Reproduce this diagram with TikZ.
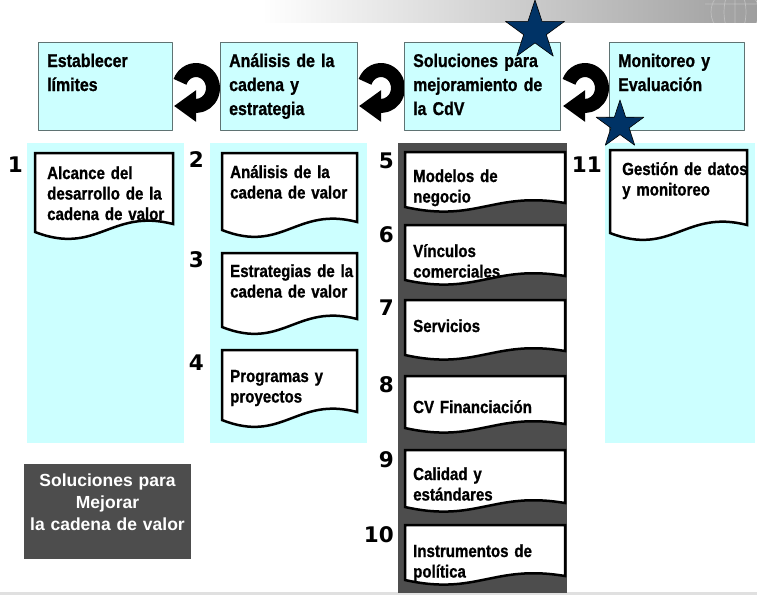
\documentclass[tikz,border=0pt]{standalone}
\usepackage{fontspec}
\setmainfont{Liberation Sans}
\newfontfamily\narrowsans{Liberation Sans}[FakeStretch=0.86, FakeBold=1]
\newfontfamily\digitsans{DejaVu Sans}
\usetikzlibrary{arrows.meta,shapes.geometric}
\definecolor{paleaqua}{HTML}{CCFFFF}
\definecolor{slategray}{HTML}{4D4D4D}
\definecolor{starnavy}{HTML}{003366}
\definecolor{hdborder}{HTML}{5F7373}
\tikzset{
  every picture/.style={line join=round, >=Stealth},
  colstrip/.style={fill=paleaqua},
  hdbox/.style={fill=paleaqua, draw=hdborder, line width=1pt, anchor=north west, inner sep=0pt, minimum height=88pt},
  hdtext/.style={anchor=base west, inner sep=0pt, text width=150pt, align=left, font=\narrowsans\bfseries\fontsize{18.5}{24}\selectfont},
  doctext/.style={anchor=base west, inner sep=0pt, text width=150pt, align=left, font=\narrowsans\bfseries\fontsize{17.5}{20.5}\selectfont},
  docline/.style={fill=white, draw=black, line width=2.5pt, line join=miter},
  stepnum/.style={anchor=base east, inner sep=0pt, font=\digitsans\bfseries\fontsize{21.5}{24}\selectfont},
  loop arrow/.style={draw=black, line width=14pt, -{Triangle[length=22pt,width=30pt]}},
  bigstar/.style={star, star points=5, star point ratio=2.6, fill=starnavy, draw=black, line width=0.6pt, inner sep=0pt},
}
% x1, y1, x2, bottom y, wave, rise at the right end
\newcommand{\docpage}[6]{%
  \draw[docline] (#1,#2) -- (#3,#2) -- (#3,#4-#6)
    .. controls ({#1+0.55*(#3-#1)},#4-#5) and ({#1+0.45*(#3-#1)},#4+#5) .. (#1,#4) -- cycle;}

\begin{document}
\begin{tikzpicture}[x=1pt,y=-1pt]
\useasboundingbox (0,0) rectangle (757,595);
\shade[left color=white, right color=black!38] (262,0) rectangle (757,22);
\begin{scope}
\clip (690,0) rectangle (757,22);
\draw[white!75!black, line width=0.7pt] (735,12) circle[radius=24] (735,12) ellipse[x radius=11, y radius=24] (735,-12) -- (735,36) (705,4) -- (757,4);
\end{scope}
\fill[black!12] (0,592) rectangle (757,595);

\fill[colstrip] (27,143) rectangle (184,443);
\fill[colstrip] (210,143) rectangle (367,443);
\fill[slategray] (398,143) rectangle (567,593);
\fill[colstrip] (605,143) rectangle (755,443);

\coordinate (loopA) at (196,88);
\coordinate (loopB) at (381,88);
\coordinate (loopC) at (585,88);
\draw[loop arrow] (loopA) ++(-160:17 and 18) arc[start angle=-160, end angle=90, x radius=17, y radius=18] -- ++(-22,0);
\draw[loop arrow] (loopB) ++(-160:17 and 18) arc[start angle=-160, end angle=90, x radius=17, y radius=18] -- ++(-22,0);
\draw[loop arrow] (loopC) ++(-160:17 and 18) arc[start angle=-160, end angle=90, x radius=17, y radius=18] -- ++(-22,0);

\node[hdbox, minimum width=134pt] (limites) at (38,42) {};
\node[hdbox, minimum width=137pt] (analisis) at (220,42) {};
\node[hdbox, minimum width=156pt] (soluciones) at (404,42) {};
\node[hdbox, minimum width=135pt] (monitoreo) at (609,42) {};
\node[hdtext] (limitestext) at (47,67) {Establecer\\límites};
\node[hdtext] (analisistext) at (229,67) {Análisis de la\\cadena y\\estrategia};
\node[hdtext] (solucionestext) at (413,67) {Soluciones para\\mejoramiento de\\la CdV};
\node[hdtext] (monitoreotext) at (618,67) {Monitoreo y\\Evaluación};

\docpage{35}{153}{173}{232}{24}{8}
\docpage{222}{153}{357}{230}{24}{8}
\docpage{222}{253}{357}{327}{24}{8}
\docpage{222}{350}{357}{420}{24}{8}
\docpage{405}{152}{565}{207}{16}{4}
\docpage{405}{225}{565}{280}{16}{4}
\docpage{405}{300}{565}{355}{16}{4}
\docpage{405}{376}{565}{428}{16}{4}
\docpage{405}{450}{565}{507}{16}{4}
\docpage{405}{525}{565}{580}{16}{4}
\docpage{610}{150}{747}{233}{24}{8}

\node[doctext] (alcance) at (47,179) {Alcance del\\desarrollo de la\\cadena de valor};
\node[doctext] (analisisvalor) at (230,178) {Análisis de la\\cadena de valor};
\node[doctext] (estrategias) at (230,277) {Estrategias de la\\cadena de valor};
\node[doctext] (programas) at (230,382) {Programas y\\proyectos};
\node[doctext] (modelos) at (413,182) {Modelos de\\negocio};
\node[doctext] (vinculos) at (413,257) {Vínculos\\comerciales};
\node[doctext] (servicios) at (413,332) {Servicios};
\node[doctext] (financiacion) at (413,413) {CV Financiación};
\node[doctext] (calidad) at (413,480) {Calidad y\\estándares};
\node[doctext] (instrumentos) at (413,557) {Instrumentos de\\política};
\node[doctext] (gestion) at (622,175) {Gestión de datos\\y monitoreo};

\node[stepnum] (n1) at (23,172) {1};
\node[stepnum] (n2) at (204,167) {2};
\node[stepnum] (n3) at (204,267) {3};
\node[stepnum] (n4) at (204,370) {4};
\node[stepnum] (n5) at (394,168) {5};
\node[stepnum] (n6) at (394,242) {6};
\node[stepnum] (n7) at (394,315) {7};
\node[stepnum] (n8) at (394,392) {8};
\node[stepnum] (n9) at (394,467) {9};
\node[stepnum] (n10) at (394,542) {10};
\node[stepnum] (n11) at (602,172) {11};

\node[fill=slategray, minimum width=167pt, minimum height=95pt, anchor=north west, inner sep=0pt] (mejorar) at (24,464) {};
\node[anchor=base, text width=167pt, align=center, inner sep=0pt, text=white, font=\bfseries\fontsize{17.5}{22}\selectfont] (mejorartext) at (107.5,486) {Soluciones para\\Mejorar\\la cadena de valor};

\node[bigstar, minimum size=62pt] (starC) at (535,31) {};
\node[bigstar, minimum size=50pt] (starD) at (620,125) {};
\end{tikzpicture}
\end{document}
